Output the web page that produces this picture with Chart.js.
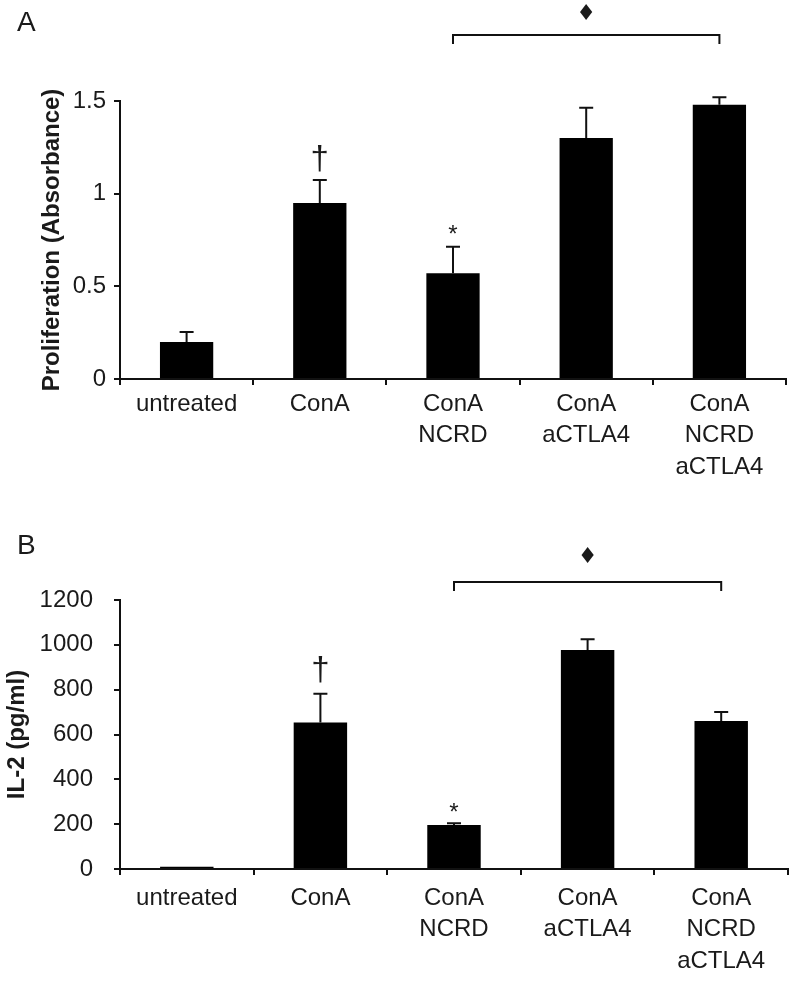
<!DOCTYPE html>
<html>
<head>
<meta charset="utf-8">
<title>Proliferation and IL-2</title>
<script src="https://cdn.jsdelivr.net/npm/chart.js"></script>
<style>
  body { margin: 0; background: #fff; }
  #wrap { position: relative; width: 800px; height: 983px; font-family: "Liberation Sans", Arial, sans-serif; color: #1a1a1a; }
  canvas { position: absolute; left: 0; }
  .panel-label { position: absolute; left: 17px; font-size: 28px; line-height: 1; }
</style>
</head>
<body>
<div id="wrap">
  <canvas id="chartA" width="800" height="490" style="top:0"></canvas>
  <canvas id="chartB" width="800" height="493" style="top:490px"></canvas>
  <div class="panel-label" style="top:8px">A</div>
  <div class="panel-label" style="top:531px">B</div>
</div>
<script>
// categories (same for both panels)
const categories = [['untreated'], ['ConA'], ['ConA', 'NCRD'], ['ConA', 'aCTLA4'], ['ConA', 'NCRD', 'aCTLA4']];

// panel A - proliferation (absorbance), mean and upper error
const proliferation = [0.20, 0.95, 0.57, 1.30, 1.48];
const proliferationErr = [0.054, 0.124, 0.144, 0.164, 0.04];
const proliferationMarks = ['', '†', '*', '', ''];
const proliferationTicks = [0, 0.5, 1, 1.5];

// panel B - IL-2 (pg/ml)
const il2 = [10, 654, 196, 977, 660];
const il2Err = [0, 128, 8, 48, 40];
const il2Marks = ['', '†', '*', '', ''];
const il2Ticks = [0, 200, 400, 600, 800, 1000, 1200];

// bracket between groups 3 and 5
const bracketFrom = 2;
const bracketTo = 4;
const bracketSymbol = '♦';

const FONT = '"Liberation Sans", Arial, sans-serif';
const INK = '#1a1a1a';

// error bars, significance marks and bracket
const annotate = {
  id: 'annotate',
  afterDatasetsDraw(chart, args, opts) {
    const ctx = chart.ctx;
    const meta = chart.getDatasetMeta(0);
    const yScale = chart.scales.y;
    const vals = chart.data.datasets[0].data;
    ctx.save();
    ctx.strokeStyle = '#111';
    ctx.lineWidth = 2;
    ctx.fillStyle = INK;
    ctx.textAlign = 'center';
    ctx.textBaseline = 'alphabetic';
    opts.errors.forEach((e, i) => {
      const bar = meta.data[i];
      const cap = yScale.getPixelForValue(vals[i] + e);
      if (e > 0) {
        ctx.beginPath();
        ctx.moveTo(bar.x, bar.y);
        ctx.lineTo(bar.x, cap);
        ctx.moveTo(bar.x - 7, cap);
        ctx.lineTo(bar.x + 7, cap);
        ctx.stroke();
      }
      const m = opts.marks[i];
      if (m === '*') {
        ctx.font = '24px ' + FONT;
        ctx.fillText(m, bar.x, cap - opts.starGap);
      } else if (m) {
        ctx.font = '33px ' + FONT;
        ctx.fillText(m, bar.x, cap - opts.daggerGap);
      }
    });
    // bracket
    const x1 = meta.data[opts.from].x;
    const x2 = meta.data[opts.to].x;
    ctx.beginPath();
    ctx.moveTo(x1, opts.bracketY + opts.drop);
    ctx.lineTo(x1, opts.bracketY);
    ctx.lineTo(x2, opts.bracketY);
    ctx.lineTo(x2, opts.bracketY + opts.drop);
    ctx.stroke();
    ctx.font = '22px "DejaVu Sans", sans-serif';
    ctx.textBaseline = 'middle';
    ctx.fillText(opts.symbol, (x1 + x2) / 2, opts.symbolY);
    ctx.restore();
  }
};

function makeChart(id, values, errors, marks, ticks, yTitle, p) {
  return new Chart(document.getElementById(id), {
    type: 'bar',
    data: {
      labels: categories,
      datasets: [{
        data: values,
        backgroundColor: '#000',
        borderWidth: 0,
        barPercentage: 0.4,
        categoryPercentage: 1.0
      }]
    },
    options: {
      responsive: false,
      animation: false,
      events: [],
      layout: { padding: { top: p.top, right: p.right, left: 0, bottom: 0 } },
      plugins: {
        legend: { display: false },
        tooltip: { enabled: false },
        annotate: {
          errors: errors, marks: marks, daggerGap: p.daggerGap, starGap: p.starGap,
          from: bracketFrom, to: bracketTo, symbol: bracketSymbol,
          bracketY: p.bracketY, drop: 9, symbolY: p.symbolY
        }
      },
      scales: {
        x: {
          grid: { display: true, drawOnChartArea: false, drawTicks: true, tickLength: 6, color: '#111', lineWidth: 2, offset: true },
          border: { display: true, color: '#111', width: 2 },
          ticks: { color: INK, font: { family: FONT, size: 24, lineHeight: 1.3 }, padding: p.xPad, maxRotation: 0, autoSkip: false },
          afterFit: s => { s.height = p.xHeight; }
        },
        y: {
          min: 0,
          max: ticks[ticks.length - 1],
          afterBuildTicks: s => { s.ticks = ticks.map(v => ({ value: v })); },
          grid: { drawOnChartArea: false, drawTicks: true, tickLength: 6, color: '#111', lineWidth: 2 },
          border: { display: true, color: '#111', width: 2 },
          ticks: { color: INK, font: { family: FONT, size: 24 }, padding: p.yPad, callback: v => String(v) },
          title: {
            display: true, text: yTitle, color: INK,
            font: { family: FONT, size: 24, weight: 'bold' },
            padding: { top: p.titlePad, bottom: 0 }
          },
          afterFit: s => { s.width = 120; }
        }
      }
    },
    plugins: [annotate]
  });
}

makeChart('chartA', proliferation, proliferationErr, proliferationMarks, proliferationTicks,
  'Proliferation (Absorbance)',
  { top: 101, right: 14, xHeight: 111, xPad: 4, yPad: 8, titlePad: 38, daggerGap: 11, starGap: 5, bracketY: 35, symbolY: 14 });

makeChart('chartB', il2, il2Err, il2Marks, il2Ticks,
  'IL-2 (pg/ml)',
  { top: 110, right: 12, xHeight: 114, xPad: 8, yPad: 21, titlePad: 3, daggerGap: 14, starGap: 3, bracketY: 92, symbolY: 67 });
</script>
</body>
</html>
